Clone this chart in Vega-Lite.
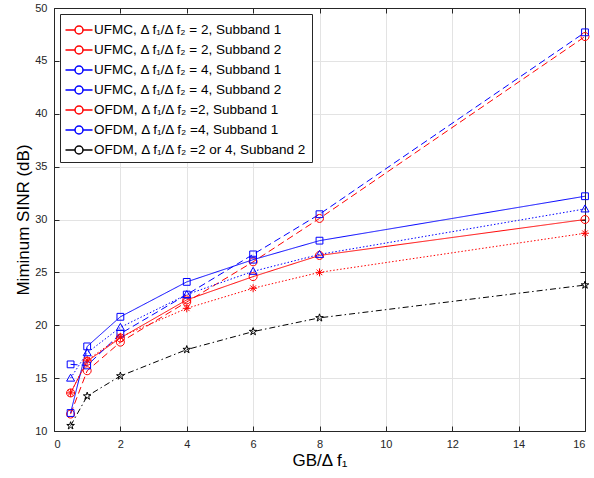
{
  "$schema": "https://vega.github.io/schema/vega-lite/v6.json",
  "autosize": {"type": "none"},
  "padding": {"left": 54, "top": 8, "right": 9, "bottom": 47},
  "width": 531,
  "height": 423,
  "background": "white",
  "config": {
    "view": {"stroke": null},
    "font": "Liberation Sans",
    "axis": {"labelFont": "Liberation Sans", "titleFont": "Liberation Sans"}
  },
  "data": {
    "values": [
      {"series": "UFMC, Δ f₁/Δ f₂ = 2, Subband 1", "x": 0.5, "y": 13.6},
      {"series": "UFMC, Δ f₁/Δ f₂ = 2, Subband 1", "x": 1, "y": 16.6},
      {"series": "UFMC, Δ f₁/Δ f₂ = 2, Subband 1", "x": 2, "y": 18.8},
      {"series": "UFMC, Δ f₁/Δ f₂ = 2, Subband 1", "x": 4, "y": 22.4},
      {"series": "UFMC, Δ f₁/Δ f₂ = 2, Subband 1", "x": 6, "y": 24.6},
      {"series": "UFMC, Δ f₁/Δ f₂ = 2, Subband 1", "x": 8, "y": 26.6},
      {"series": "UFMC, Δ f₁/Δ f₂ = 2, Subband 1", "x": 16, "y": 30.0},
      {"series": "UFMC, Δ f₁/Δ f₂ = 2, Subband 2", "x": 0.5, "y": 11.6},
      {"series": "UFMC, Δ f₁/Δ f₂ = 2, Subband 2", "x": 1, "y": 15.7},
      {"series": "UFMC, Δ f₁/Δ f₂ = 2, Subband 2", "x": 2, "y": 18.4},
      {"series": "UFMC, Δ f₁/Δ f₂ = 2, Subband 2", "x": 4, "y": 22.2},
      {"series": "UFMC, Δ f₁/Δ f₂ = 2, Subband 2", "x": 6, "y": 26.0},
      {"series": "UFMC, Δ f₁/Δ f₂ = 2, Subband 2", "x": 8, "y": 30.1},
      {"series": "UFMC, Δ f₁/Δ f₂ = 2, Subband 2", "x": 16, "y": 47.3},
      {"series": "UFMC, Δ f₁/Δ f₂ = 4, Subband 1", "x": 0.5, "y": 11.7},
      {"series": "UFMC, Δ f₁/Δ f₂ = 4, Subband 1", "x": 1, "y": 18.0},
      {"series": "UFMC, Δ f₁/Δ f₂ = 4, Subband 1", "x": 2, "y": 20.8},
      {"series": "UFMC, Δ f₁/Δ f₂ = 4, Subband 1", "x": 4, "y": 24.1},
      {"series": "UFMC, Δ f₁/Δ f₂ = 4, Subband 1", "x": 6, "y": 26.2},
      {"series": "UFMC, Δ f₁/Δ f₂ = 4, Subband 1", "x": 8, "y": 28.0},
      {"series": "UFMC, Δ f₁/Δ f₂ = 4, Subband 1", "x": 16, "y": 32.2},
      {"series": "UFMC, Δ f₁/Δ f₂ = 4, Subband 2", "x": 0.5, "y": 16.3},
      {"series": "UFMC, Δ f₁/Δ f₂ = 4, Subband 2", "x": 1, "y": 16.2},
      {"series": "UFMC, Δ f₁/Δ f₂ = 4, Subband 2", "x": 2, "y": 19.2},
      {"series": "UFMC, Δ f₁/Δ f₂ = 4, Subband 2", "x": 4, "y": 22.9},
      {"series": "UFMC, Δ f₁/Δ f₂ = 4, Subband 2", "x": 6, "y": 26.7},
      {"series": "UFMC, Δ f₁/Δ f₂ = 4, Subband 2", "x": 8, "y": 30.5},
      {"series": "UFMC, Δ f₁/Δ f₂ = 4, Subband 2", "x": 16, "y": 47.7},
      {"series": "OFDM, Δ f₁/Δ f₂ =2, Subband 1", "x": 0.5, "y": 13.6},
      {"series": "OFDM, Δ f₁/Δ f₂ =2, Subband 1", "x": 1, "y": 16.7},
      {"series": "OFDM, Δ f₁/Δ f₂ =2, Subband 1", "x": 2, "y": 18.9},
      {"series": "OFDM, Δ f₁/Δ f₂ =2, Subband 1", "x": 4, "y": 21.6},
      {"series": "OFDM, Δ f₁/Δ f₂ =2, Subband 1", "x": 6, "y": 23.5},
      {"series": "OFDM, Δ f₁/Δ f₂ =2, Subband 1", "x": 8, "y": 25.0},
      {"series": "OFDM, Δ f₁/Δ f₂ =2, Subband 1", "x": 16, "y": 28.7},
      {"series": "OFDM, Δ f₁/Δ f₂ =4, Subband 1", "x": 0.5, "y": 15.0},
      {"series": "OFDM, Δ f₁/Δ f₂ =4, Subband 1", "x": 1, "y": 17.4},
      {"series": "OFDM, Δ f₁/Δ f₂ =4, Subband 1", "x": 2, "y": 19.8},
      {"series": "OFDM, Δ f₁/Δ f₂ =4, Subband 1", "x": 4, "y": 22.9},
      {"series": "OFDM, Δ f₁/Δ f₂ =4, Subband 1", "x": 6, "y": 25.1},
      {"series": "OFDM, Δ f₁/Δ f₂ =4, Subband 1", "x": 8, "y": 26.7},
      {"series": "OFDM, Δ f₁/Δ f₂ =4, Subband 1", "x": 16, "y": 31.0},
      {"series": "OFDM, Δ f₁/Δ f₂ =2 or 4, Subband 2", "x": 0.5, "y": 10.5},
      {"series": "OFDM, Δ f₁/Δ f₂ =2 or 4, Subband 2", "x": 1, "y": 13.3},
      {"series": "OFDM, Δ f₁/Δ f₂ =2 or 4, Subband 2", "x": 2, "y": 15.2},
      {"series": "OFDM, Δ f₁/Δ f₂ =2 or 4, Subband 2", "x": 4, "y": 17.7},
      {"series": "OFDM, Δ f₁/Δ f₂ =2 or 4, Subband 2", "x": 6, "y": 19.4},
      {"series": "OFDM, Δ f₁/Δ f₂ =2 or 4, Subband 2", "x": 8, "y": 20.7},
      {"series": "OFDM, Δ f₁/Δ f₂ =2 or 4, Subband 2", "x": 16, "y": 23.8}
    ]
  },
  "layer": [
    {
      "mark": {"type": "line", "clip": true},
      "encoding": {
        "x": {
          "field": "x", "type": "quantitative",
          "scale": {"domain": [0, 16], "nice": false, "zero": false},
          "axis": {
            "values": [0, 2, 4, 6, 8, 10, 12, 14, 16],
            "grid": true, "gridColor": "#e3e3e3",
            "domainColor": "#262626", "tickColor": "#262626",
            "tickSize": -5, "labelPadding": 12,
            "labelColor": "#262626", "labelFontSize": 11,
            "title": "GB/Δ f₁", "titleFontSize": 17, "titleFontWeight": "normal",
            "titleColor": "#000000", "titlePadding": 3
          }
        },
        "y": {
          "field": "y", "type": "quantitative",
          "scale": {"domain": [10, 50], "nice": false, "zero": false},
          "axis": {
            "values": [10, 15, 20, 25, 30, 35, 40, 45, 50],
            "grid": true, "gridColor": "#e3e3e3",
            "domainColor": "#262626", "tickColor": "#262626",
            "tickSize": -5, "labelPadding": 12,
            "labelColor": "#262626", "labelFontSize": 11,
            "title": "Miminum SINR (dB)", "titleFontSize": 17, "titleFontWeight": "normal",
            "titleColor": "#000000", "titlePadding": 2
          }
        },
        "color": {
          "field": "series", "type": "nominal",
          "scale": {
            "domain": ["UFMC, Δ f₁/Δ f₂ = 2, Subband 1", "UFMC, Δ f₁/Δ f₂ = 2, Subband 2", "UFMC, Δ f₁/Δ f₂ = 4, Subband 1", "UFMC, Δ f₁/Δ f₂ = 4, Subband 2", "OFDM, Δ f₁/Δ f₂ =2, Subband 1", "OFDM, Δ f₁/Δ f₂ =4, Subband 1", "OFDM, Δ f₁/Δ f₂ =2 or 4, Subband 2"],
            "range": ["#ff0000", "#ff0000", "#0000ff", "#0000ff", "#ff0000", "#0000ff", "#000000"]
          }
        },
        "strokeDash": {
          "field": "series", "type": "nominal", "legend": null,
          "scale": {
            "domain": ["UFMC, Δ f₁/Δ f₂ = 2, Subband 1", "UFMC, Δ f₁/Δ f₂ = 2, Subband 2", "UFMC, Δ f₁/Δ f₂ = 4, Subband 1", "UFMC, Δ f₁/Δ f₂ = 4, Subband 2", "OFDM, Δ f₁/Δ f₂ =2, Subband 1", "OFDM, Δ f₁/Δ f₂ =4, Subband 1", "OFDM, Δ f₁/Δ f₂ =2 or 4, Subband 2", "-"],
            "range": [[1, 0], [7, 4], [1, 0], [7, 4], [1.5, 2], [1.5, 2], [6, 3, 1.5, 3], [1, 0]]
          }
        },
        "strokeWidth": {
          "field": "series", "type": "nominal", "legend": null,
          "scale": {
            "domain": ["UFMC, Δ f₁/Δ f₂ = 2, Subband 1", "UFMC, Δ f₁/Δ f₂ = 2, Subband 2", "UFMC, Δ f₁/Δ f₂ = 4, Subband 1", "UFMC, Δ f₁/Δ f₂ = 4, Subband 2", "OFDM, Δ f₁/Δ f₂ =2, Subband 1", "OFDM, Δ f₁/Δ f₂ =4, Subband 1", "OFDM, Δ f₁/Δ f₂ =2 or 4, Subband 2", "--"],
            "range": [1, 1, 1, 1, 1.7, 1.7, 1, 1]
          }
        }
      }
    },
    {
      "mark": {"type": "point", "filled": false, "size": 64, "opacity": 1, "clip": false},
      "encoding": {
        "x": {
          "field": "x", "type": "quantitative",
          "axis": {
            "orient": "top", "values": [0, 2, 4, 6, 8, 10, 12, 14, 16],
            "labels": false, "grid": false, "title": null,
            "domainColor": "#262626", "tickColor": "#262626", "tickSize": -5
          }
        },
        "y": {
          "field": "y", "type": "quantitative",
          "axis": {
            "orient": "right", "values": [10, 15, 20, 25, 30, 35, 40, 45, 50],
            "labels": false, "grid": false, "title": null,
            "domainColor": "#262626", "tickColor": "#262626", "tickSize": -5
          }
        },
        "color": {
          "field": "series", "type": "nominal",
          "legend": {
            "title": null, "orient": "top-left", "offset": 6,
            "padding": 5, "fillColor": "white", "strokeColor": "#262626",
            "symbolSize": 400, "symbolOffset": 3, "labelOffset": 4,
            "symbolType": "M-1.35,0H-0.4M0.4,0H1.35M0.4,0A0.4,0.4 0 1,1 -0.4,0A0.4,0.4 0 1,1 0.4,0",
            "rowPadding": 2, "labelFontSize": 13.5, "labelColor": "#000000",
            "labelFont": "Liberation Sans", "labelLimit": 400,
            "encode": {
              "symbols": {
                "strokeWidth": {"value": 1},
                "strokeDash": {"value": [1, 0]},
                "fill": {"value": "transparent"},
                "opacity": {"value": 1}
              }
            }
          }
        },
        "shape": {
          "field": "series", "type": "nominal", "legend": null,
          "scale": {
            "domain": ["UFMC, Δ f₁/Δ f₂ = 2, Subband 1", "UFMC, Δ f₁/Δ f₂ = 2, Subband 2", "UFMC, Δ f₁/Δ f₂ = 4, Subband 1", "UFMC, Δ f₁/Δ f₂ = 4, Subband 2", "OFDM, Δ f₁/Δ f₂ =2, Subband 1", "OFDM, Δ f₁/Δ f₂ =4, Subband 1", "OFDM, Δ f₁/Δ f₂ =2 or 4, Subband 2", "---"],
            "range": ["M1,0A1,1 0 1,1 -1,0A1,1 0 1,1 1,0Z", "M1,0A1,1 0 1,1 -1,0A1,1 0 1,1 1,0Z", "M-0.85,-0.85H0.85V0.85H-0.85Z", "M-0.85,-0.85H0.85V0.85H-0.85Z", "M0,-1V1M-1,0H1M-0.7,-0.7L0.7,0.7M-0.7,0.7L0.7,-0.7", "M0,-1L1,0.75H-1Z", "M0,-1L0.2245,-0.309L0.951,-0.309L0.363,0.118L0.588,0.809L0,0.382L-0.588,0.809L-0.363,0.118L-0.951,-0.309L-0.2245,-0.309Z", "circle"]
          }
        },
        "strokeWidth": {
          "field": "series", "type": "nominal", "legend": null
        }
      }
    }
  ],
  "resolve": {"axis": {"x": "independent", "y": "independent"}}
}
